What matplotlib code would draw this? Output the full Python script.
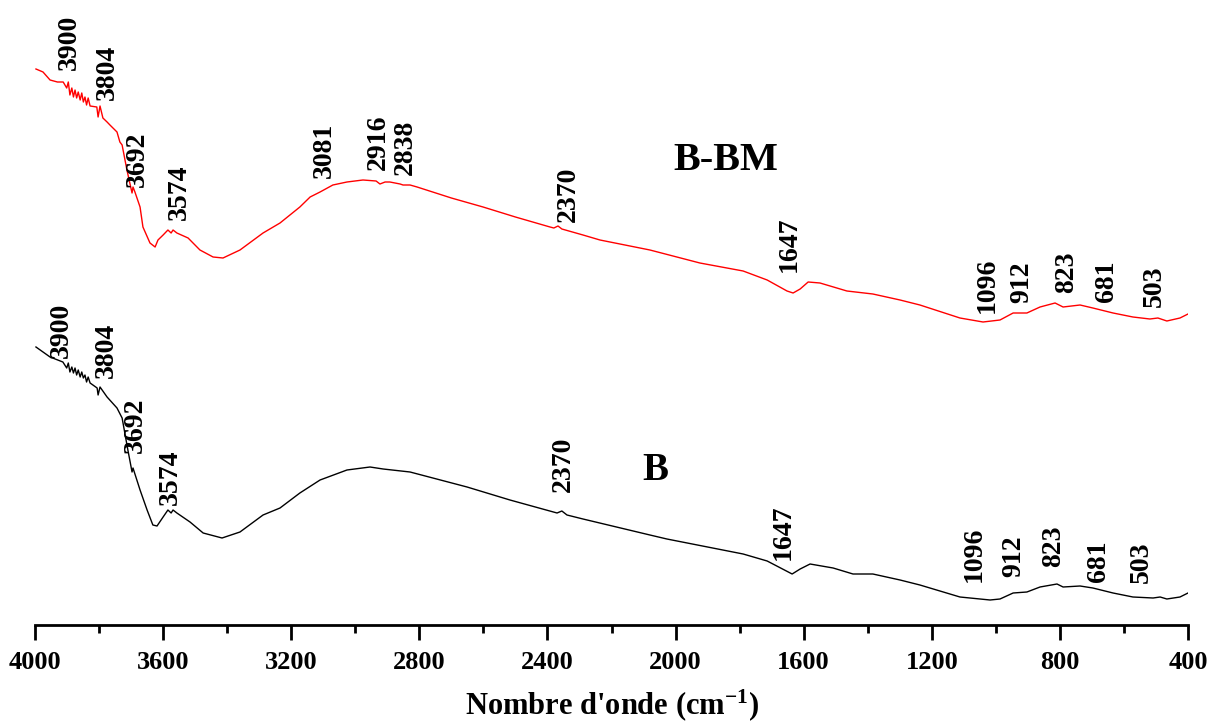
import matplotlib
matplotlib.use("Agg")
import matplotlib.pyplot as plt
from matplotlib.ticker import MultipleLocator

plt.rcParams['font.family'] = ['Liberation Serif', 'DejaVu Serif']
plt.rcParams['font.weight'] = 'bold'
plt.rcParams['mathtext.fontset'] = 'custom'
plt.rcParams['mathtext.rm'] = 'Liberation Serif:bold'
plt.rcParams['mathtext.it'] = 'Liberation Serif:bold'
plt.rcParams['mathtext.bf'] = 'Liberation Serif:bold'

# spectre B-BM (rouge)
wn_bbm = [3997, 3975, 3953, 3930, 3912, 3901, 3896, 3891, 3885, 3880, 3875, 3870, 3865,
          3859, 3854, 3849, 3844, 3839, 3834, 3828, 3807, 3803, 3797, 3788, 3775, 3766,
          3744, 3735, 3728, 3713, 3697, 3694, 3688, 3672, 3663, 3641, 3625, 3616, 3600,
          3585, 3575, 3569, 3557, 3522, 3485, 3444, 3413, 3360, 3288, 3235, 3173, 3141,
          3110, 3070, 3026, 2976, 2935, 2923, 2907, 2892, 2860, 2851, 2829, 2807, 2700,
          2601, 2500, 2392, 2380, 2367, 2355, 2289, 2236, 2080, 1924, 1789, 1714, 1652,
          1633, 1611, 1586, 1549, 1465, 1384, 1299, 1237, 1112, 1040, 987, 946, 903, 862,
          815, 790, 737, 697, 634, 572, 519, 494, 466, 425, 400]
t_bbm = [55.6, 55.3, 54.5, 54.3, 54.3, 53.7, 54.3, 53.0, 53.7, 52.8, 53.5, 52.7, 53.3,
         52.5, 53.2, 52.3, 52.8, 52.0, 52.7, 51.9, 51.8, 50.8, 51.9, 50.7, 50.3, 50.0,
         49.3, 48.3, 48.0, 45.5, 43.2, 43.8, 43.3, 41.8, 39.8, 38.2, 37.8, 38.5, 39.0,
         39.5, 39.2, 39.5, 39.2, 38.7, 37.5, 36.8, 36.7, 37.5, 39.2, 40.2, 41.8, 42.8,
         43.3, 44.0, 44.3, 44.5, 44.4, 44.1, 44.3, 44.3, 44.1, 44.0, 44.0, 43.8, 42.7,
         41.8, 40.8, 39.8, 39.7, 39.9, 39.6, 39.0, 38.5, 37.5, 36.2, 35.4, 34.5, 33.4,
         33.2, 33.6, 34.3, 34.2, 33.4, 33.1, 32.5, 32.0, 30.7, 30.3, 30.5, 31.2, 31.2, 31.8,
         32.2, 31.8, 32.0, 31.7, 31.2, 30.8, 30.6, 30.7, 30.4, 30.7, 31.1]

# spectre B (noir)
wn_b = [3997, 3975, 3953, 3913, 3901, 3896, 3891, 3885, 3880, 3875, 3870, 3865, 3859,
        3854, 3849, 3844, 3839, 3834, 3828, 3806, 3803, 3797, 3775, 3744, 3728, 3710,
        3697, 3694, 3672, 3650, 3632, 3619, 3600, 3585, 3575, 3569, 3557, 3516, 3475,
        3416, 3360, 3288, 3235, 3173, 3110, 3026, 2954, 2913, 2829, 2651, 2517, 2370,
        2355, 2339, 2289, 2080, 2027, 1789, 1714, 1636, 1611, 1580, 1508, 1446, 1384,
        1299, 1237, 1112, 1018, 987, 946, 903, 862, 809, 790, 737, 697, 634, 572, 509,
        487, 466, 425, 400]
t_b = [27.8, 27.3, 26.8, 26.3, 25.7, 26.2, 25.3, 25.8, 25.2, 25.7, 25.0, 25.5, 24.8,
       25.3, 24.7, 25.0, 24.3, 24.8, 24.2, 23.7, 23.0, 23.8, 22.8, 21.7, 20.7, 17.5,
       15.3, 15.7, 13.5, 11.5, 10.0, 9.9, 10.8, 11.5, 11.2, 11.5, 11.2, 10.3, 9.2,
       8.7, 9.3, 11.0, 11.7, 13.2, 14.5, 15.5, 15.8, 15.6, 15.3, 13.8, 12.5, 11.2,
       11.4, 11.0, 10.6, 9.0, 8.6, 7.1, 6.4, 5.1, 5.6, 6.1, 5.7, 5.1, 5.1,
       4.5, 4.0, 2.8, 2.5, 2.6, 3.2, 3.3, 3.8, 4.1, 3.8, 3.9, 3.7, 3.2, 2.8, 2.7,
       2.8, 2.6, 2.8, 3.2]

# bandes annotées
pics_bbm = ['3900', '3804', '3692', '3574', '3081', '2916', '2838', '2370', '1647',
            '1096', '912', '823', '681', '503']
pics_b = ['3900', '3804', '3692', '3574', '2370', '1647', '1096', '912', '823', '681', '503']

# position (x, bas du texte) des étiquettes
pos_bbm = [(3894, 55.5), (3775, 52.5), (3681, 43.8), (3550, 40.5), (3095, 44.7),
           (2929, 45.5), (2845, 45.0), (2336, 40.3), (1646, 35.3), (1028, 31.2),
           (918, 32.2), (778, 33.2), (653, 32.3), (506, 31.8)]
pos_b = [(3919, 26.7), (3778, 24.7), (3688, 17.2), (3578, 12.0), (2351, 13.3),
         (1665, 6.5), (1068, 4.3), (943, 4.8), (818, 5.8), (681, 4.3), (547, 4.2)]

fig = plt.figure(figsize=(12.13, 7.22), dpi=100)
ax = fig.add_axes([35 / 1213, 97 / 722, 1153 / 1213, 625 / 722])

ax.plot(wn_bbm, t_bbm, color='red', lw=1.0)
ax.plot(wn_b, t_b, color='black', lw=1.0)

for txt, (x, y) in zip(pics_bbm, pos_bbm):
    ax.text(x, y, txt, rotation=90, ha='center', va='bottom', fontsize=20, fontweight='bold')
for txt, (x, y) in zip(pics_b, pos_b):
    ax.text(x, y, txt, rotation=90, ha='center', va='bottom', fontsize=20, fontweight='bold')

ax.text(1843, 46.4, 'B-BM', ha='center', va='center', fontsize=29, fontweight='bold')
ax.text(2064, 15.5, 'B', ha='center', va='center', fontsize=28, fontweight='bold')

ax.set_xlim(4000, 400)
ax.set_ylim(0, 62.5)
for s in ['top', 'right', 'left']:
    ax.spines[s].set_visible(False)
ax.spines['bottom'].set_linewidth(2)
ax.set_yticks([])
ax.xaxis.set_major_locator(MultipleLocator(400))
ax.xaxis.set_minor_locator(MultipleLocator(200))
ax.tick_params(axis='x', which='major', direction='out', length=11, width=2,
               labelsize=19, pad=8)
ax.tick_params(axis='x', which='minor', direction='out', length=6, width=2)
for lab in ax.get_xticklabels():
    lab.set_fontweight('bold')
ax.set_xlabel("Nombre d'onde (cm$^{-1}$)", fontsize=22, fontweight='bold', labelpad=9)

fig.savefig('out.png', dpi=100)
